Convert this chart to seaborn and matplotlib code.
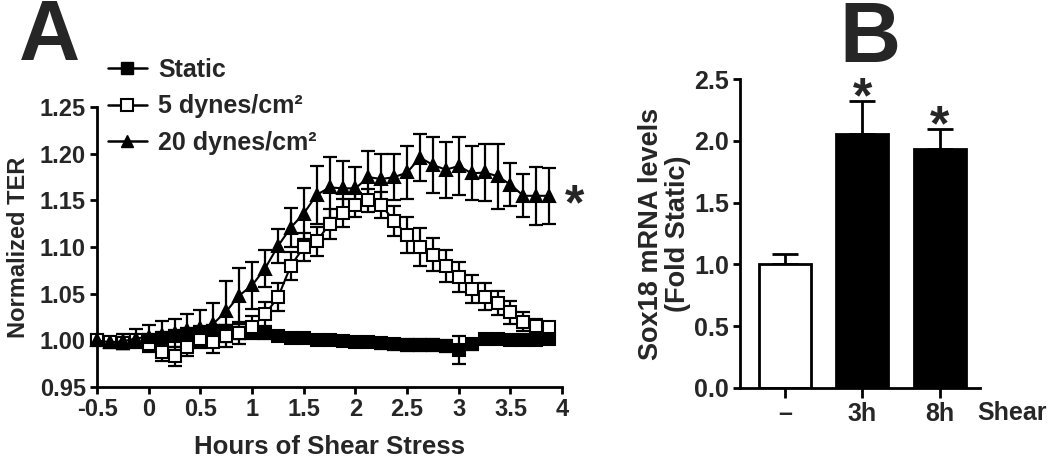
import matplotlib
matplotlib.use("Agg")
import matplotlib.pyplot as plt
import seaborn as sns
import pandas as pd
from matplotlib.lines import Line2D

# ---------------- data: panel A ----------------
hours = [-0.5, -0.375, -0.25, -0.125, 0.0, 0.125, 0.25, 0.375, 0.5, 0.625,
         0.75, 0.875, 1.0, 1.125, 1.25, 1.375, 1.5, 1.625, 1.75, 1.875,
         2.0, 2.125, 2.25, 2.375, 2.5, 2.625, 2.75, 2.875, 3.0, 3.125,
         3.25, 3.375, 3.5, 3.625, 3.75, 3.875]

static = [1.000, 0.998, 0.997, 1.000, 1.000, 1.003, 1.005, 1.007, 1.008, 1.010,
          1.010, 1.008, 1.010, 1.008, 1.005, 1.003, 1.003, 1.000, 1.000, 0.999,
          0.998, 0.998, 0.997, 0.996, 0.995, 0.995, 0.995, 0.994, 0.990, 0.996,
          1.002, 1.001, 1.000, 1.000, 1.000, 1.002]
static_err = [0.005, 0.005, 0.006, 0.006, 0.007, 0.006, 0.006, 0.006, 0.007, 0.007,
              0.006, 0.006, 0.006, 0.006, 0.005, 0.005, 0.005, 0.005, 0.005, 0.005,
              0.005, 0.005, 0.006, 0.006, 0.006, 0.006, 0.006, 0.006, 0.015, 0.006,
              0.005, 0.005, 0.005, 0.005, 0.005, 0.005]

dyn5 = [1.000, 0.998, 0.997, 1.000, 0.996, 0.988, 0.983, 0.993, 1.002, 0.998,
        1.005, 1.008, 1.014, 1.028, 1.046, 1.080, 1.100, 1.106, 1.125, 1.137,
        1.145, 1.150, 1.145, 1.128, 1.113, 1.100, 1.092, 1.080, 1.068, 1.055,
        1.047, 1.040, 1.030, 1.020, 1.015, 1.014]
dyn5_err = [0.004, 0.005, 0.006, 0.006, 0.008, 0.010, 0.010, 0.010, 0.010, 0.012,
            0.012, 0.012, 0.012, 0.013, 0.015, 0.015, 0.015, 0.016, 0.016, 0.015,
            0.013, 0.012, 0.014, 0.016, 0.019, 0.020, 0.018, 0.017, 0.016, 0.015,
            0.014, 0.013, 0.012, 0.010, 0.008, 0.006]

dyn20 = [1.000, 0.998, 0.999, 1.002, 1.004, 1.006, 1.008, 1.011, 1.013, 1.018,
         1.031, 1.048, 1.059, 1.077, 1.101, 1.121, 1.136, 1.156, 1.164, 1.163,
         1.163, 1.175, 1.173, 1.175, 1.180, 1.196, 1.188, 1.183, 1.187, 1.179,
         1.180, 1.176, 1.167, 1.155, 1.155, 1.155]
dyn20_err = [0.005, 0.006, 0.008, 0.010, 0.013, 0.015, 0.015, 0.017, 0.020, 0.022,
             0.033, 0.030, 0.025, 0.020, 0.018, 0.021, 0.027, 0.031, 0.033, 0.029,
             0.023, 0.028, 0.027, 0.025, 0.028, 0.025, 0.030, 0.030, 0.031, 0.029,
             0.031, 0.035, 0.023, 0.023, 0.031, 0.030]

x_ticks = [-0.5, 0, 0.5, 1, 1.5, 2, 2.5, 3, 3.5, 4]
x_ticklabels = ["-0.5", "0", "0.5", "1", "1.5", "2", "2.5", "3", "3.5", "4"]
y_ticks_A = [0.95, 1.00, 1.05, 1.10, 1.15, 1.20, 1.25]
series_labels = ["Static", "5 dynes/cm\u00b2", "20 dynes/cm\u00b2"]

# ---------------- data: panel B ----------------
b_categories = ["\u2013", "3h", "8h"]
b_values = [1.00, 2.055, 1.934]
b_errors = [0.085, 0.27, 0.16]
b_colors = ["white", "black", "black"]
y_ticks_B = [0.0, 0.5, 1.0, 1.5, 2.0, 2.5]

# ---------------- style ----------------
sns.set_theme(style="ticks")
plt.rcParams["font.family"] = ["Liberation Sans", "DejaVu Sans"]
plt.rcParams["font.weight"] = "bold"
plt.rcParams["axes.labelweight"] = "bold"

fig = plt.figure(figsize=(10.5, 4.61), dpi=100)
axA = fig.add_axes([0.0924, 0.1605, 0.443, 0.607])
axB = fig.add_axes([0.7048, 0.1584, 0.2286, 0.670])

# ---------------- panel A ----------------
specs = [
    (static, static_err, "s", "black", 8),
    (dyn5, dyn5_err, "s", "white", 8),
    (dyn20, dyn20_err, "^", "black", 8),
]
for vals, errs, mk, fc, ms in specs:
    axA.errorbar(hours, vals, yerr=errs, fmt="none", ecolor="black",
                 elinewidth=1.6, capsize=4.7, capthick=1.6, zorder=2, clip_on=False)
    sns.lineplot(x=hours, y=vals, ax=axA, color="black", marker=mk,
                 markersize=ms, markerfacecolor=fc, markeredgecolor="black",
                 markeredgewidth=1.5, linewidth=1.5, errorbar=None, zorder=3,
                 clip_on=False)

axA.set_xlim(-0.5, 4.0)
axA.set_ylim(0.95, 1.25)
axA.set_xticks(x_ticks)
axA.set_xticklabels(x_ticklabels)
axA.set_yticks(y_ticks_A)
axA.set_yticklabels([f"{v:.2f}" for v in y_ticks_A])
axA.set_xlabel("Hours of Shear Stress", fontsize=18.5, fontweight="bold", labelpad=10)
axA.set_ylabel("Normalized TER", fontsize=17, fontweight="bold", labelpad=7)
axA.text(4.12, 1.130, "*", fontsize=36, fontweight="bold", ha="center",
         va="baseline", clip_on=False)

legend_handles = [
    Line2D([], [], color="black", marker="s", markersize=8, markerfacecolor="black",
           markeredgecolor="black", linewidth=1.8),
    Line2D([], [], color="black", marker="s", markersize=8, markerfacecolor="white",
           markeredgecolor="black", markeredgewidth=1.5, linewidth=1.8),
    Line2D([], [], color="black", marker="^", markersize=8, markerfacecolor="black",
           markeredgecolor="black", linewidth=1.8),
]
fig.legend(legend_handles, series_labels, loc="upper left",
           bbox_to_anchor=(108 / 1050, 1 - 58 / 461), frameon=False,
           handlelength=1.55, handletextpad=0.45, labelspacing=0.5,
           borderpad=0, borderaxespad=0, prop={"weight": "bold", "size": 18})

# ---------------- panel B ----------------
dfB = pd.DataFrame({"cond": b_categories, "val": b_values})
sns.barplot(data=dfB, x="cond", y="val", hue="cond", palette=b_colors,
            edgecolor="black", linewidth=2.0, width=0.67, errorbar=None,
            legend=False, ax=axB, zorder=2)
axB.errorbar(range(len(b_values)), b_values, yerr=[[0] * len(b_errors), b_errors],
             fmt="none", ecolor="black", elinewidth=2.0, capsize=9.7,
             capthick=2.0, zorder=1)
for i, (v, e) in enumerate(zip(b_values, b_errors)):
    if i > 0:
        axB.text(i, v + e - 0.093, "*", fontsize=36, fontweight="bold",
                 ha="center", va="baseline")

axB.set_xlim(-0.58, 2.52)
axB.set_ylim(0, 2.5)
axB.set_yticks(y_ticks_B)
axB.set_yticklabels([f"{v:.1f}" for v in y_ticks_B])
axB.set_xlabel("")
axB.set_ylabel("Sox18 mRNA levels\n(Fold Static)", fontsize=19.5,
               fontweight="bold", labelpad=2, linespacing=1.05)
axB.text(2.93, -0.08, "Shear", transform=axB.get_xaxis_transform(),
         fontsize=18, fontweight="bold", ha="center", va="center")

# ---------------- common axis styling ----------------
for ax, fs in ((axA, 17), (axB, 18)):
    sns.despine(ax=ax)
    for sp in ("left", "bottom"):
        ax.spines[sp].set_linewidth(2.0)
        ax.spines[sp].set_color("black")
    ax.tick_params(axis="both", which="major", length=5, width=2.0,
                   color="black", labelsize=fs, pad=3)
    for lab in ax.get_xticklabels() + ax.get_yticklabels():
        lab.set_fontweight("bold")
axB.tick_params(axis="x", length=7)

fig.text(19 / 1050, 1 - 60 / 461, "A", fontsize=61, fontweight="bold",
         ha="left", va="baseline")
fig.text(839 / 1050, 1 - 62 / 461, "B", fontsize=61, fontweight="bold",
         ha="left", va="baseline")

fig.savefig("out.png", dpi=100)
